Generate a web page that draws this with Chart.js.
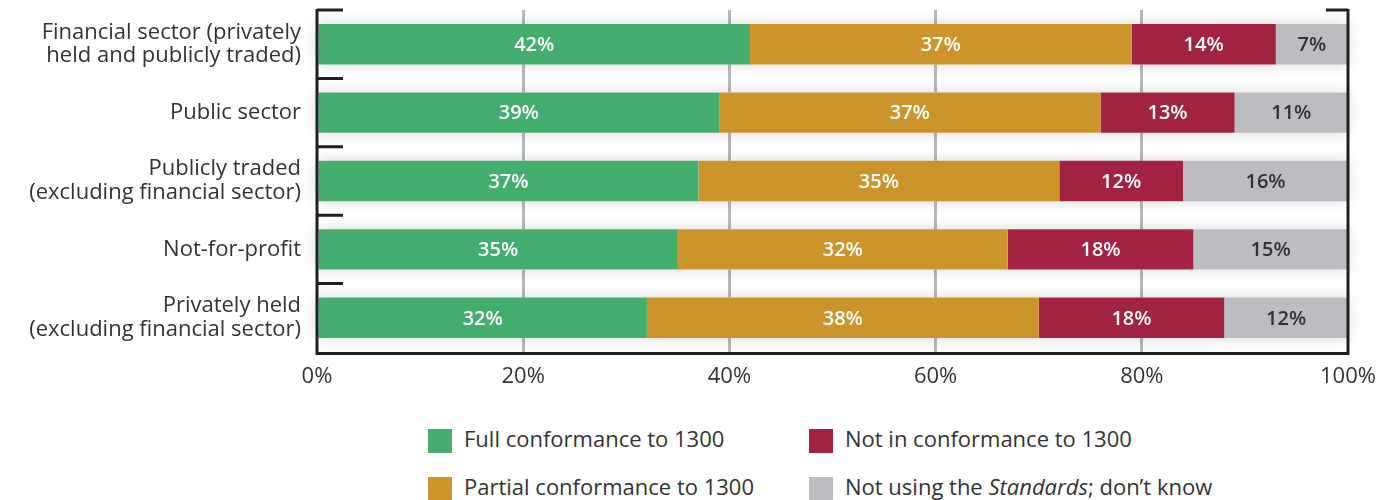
<!DOCTYPE html>
<html>
<head>
<meta charset="utf-8">
<script src="https://cdn.jsdelivr.net/npm/chart.js@4"></script>
<style>
  html, body { margin: 0; padding: 0; background: #fff; }
  body { width: 1377px; height: 500px; position: relative; overflow: hidden; font-family: "Open Sans", sans-serif; }
  #wrap { position: absolute; left: 0; top: 0; width: 1377px; height: 400px; }
  .legend { position: absolute; display: flex; align-items: center; font-size: 22px; color: #333; white-space: nowrap; }
  .legend .sw { width: 24px; height: 24px; margin-right: 12px; position: relative; top: 1px; }
  .legend .tx { position: relative; top: -2px; }
</style>
</head>
<body>
<div id="wrap"><canvas id="conformChart"></canvas></div>
<div id="legendBox"></div>
<script>
// categories and values (percent)
const categories = [
  ['Financial sector (privately', 'held and publicly traded)'],
  'Public sector',
  ['Publicly traded', '(excluding financial sector)'],
  'Not-for-profit',
  ['Privately held', '(excluding financial sector)']
];
const fullConf = [42, 39, 37, 35, 32];
const partialConf = [37, 37, 35, 32, 38];
const notConf = [14, 13, 12, 18, 18];
const notUsing = [7, 11, 16, 15, 12];
const xTicks = [0, 20, 40, 60, 80, 100];

const seriesNames = ['Full conformance to 1300', 'Partial conformance to 1300', 'Not in conformance to 1300', 'Not using the <em>Standards</em>; don\u2019t know'];
const seriesColors = ['#44ae6f', '#cb952c', '#a12341', '#bcbdc0'];
const labelColors = ['#ffffff', '#ffffff', '#ffffff', '#333333'];

const FONT = '"Open Sans", sans-serif';
const DARK = '#231f20';

// shadow behind each full bar
const barShadow = {
  id: 'barShadow',
  beforeDatasetsDraw(chart) {
    const ctx = chart.ctx;
    const meta = chart.getDatasetMeta(0);
    const xs = chart.scales.x;
    ctx.save();
    ctx.shadowColor = 'rgba(0,0,0,0.16)';
    ctx.shadowBlur = 14;
    ctx.fillStyle = '#ffffff';
    meta.data.forEach(bar => {
      const h = bar.height;
      ctx.fillRect(xs.getPixelForValue(0), bar.y - h / 2, xs.getPixelForValue(100) - xs.getPixelForValue(0), h);
    });
    ctx.restore();
  }
};

// value labels inside the segments
const segLabels = {
  id: 'segLabels',
  afterDatasetsDraw(chart) {
    const ctx = chart.ctx;
    ctx.save();
    ctx.font = '600 20px ' + FONT;
    ctx.textAlign = 'center';
    ctx.textBaseline = 'middle';
    chart.data.datasets.forEach((ds, di) => {
      const meta = chart.getDatasetMeta(di);
      ctx.fillStyle = labelColors[di];
      meta.data.forEach((bar, i) => {
        const cx = (bar.x + bar.base) / 2;
        ctx.fillText(ds.data[i] + '%', cx, bar.y + 1);
      });
    });
    ctx.restore();
  }
};

// dark frame with category ticks
const frame = {
  id: 'frame',
  afterDraw(chart) {
    const ctx = chart.ctx;
    const a = chart.chartArea;
    const ys = chart.scales.y;
    const step = (a.bottom - a.top) / categories.length;
    ctx.save();
    ctx.strokeStyle = DARK;
    ctx.lineWidth = 3;
    ctx.beginPath();
    ctx.moveTo(a.left, a.top - 1);
    ctx.lineTo(a.left, a.bottom + 1.5);
    ctx.lineTo(a.right, a.bottom + 1.5);
    ctx.lineTo(a.right, a.top - 1);
    ctx.stroke();
    ctx.beginPath();
    for (let i = 0; i < categories.length; i++) {
      const y = ys.getPixelForValue(i) - step / 2;
      ctx.moveTo(a.left, y);
      ctx.lineTo(a.left + 26, y);
    }
    ctx.moveTo(a.right, a.top);
    ctx.lineTo(a.right - 22, a.top);
    ctx.stroke();
    ctx.restore();
  }
};

const ctx = document.getElementById('conformChart').getContext('2d');
new Chart(ctx, {
  type: 'bar',
  data: {
    labels: categories,
    datasets: [fullConf, partialConf, notConf, notUsing].map((d, i) => ({
      label: seriesNames[i].replace(/<[^>]+>/g, ''),
      data: d,
      backgroundColor: seriesColors[i],
      borderWidth: 0,
      barPercentage: 0.59,
      categoryPercentage: 1
    }))
  },
  options: {
    indexAxis: 'y',
    responsive: true,
    maintainAspectRatio: false,
    animation: false,
    layout: { padding: { top: 10, right: 29, left: 0, bottom: 0 } },
    plugins: {
      legend: { display: false },
      tooltip: { enabled: false }
    },
    scales: {
      x: {
        stacked: true,
        min: 0,
        max: 100,
        afterBuildTicks(scale) { scale.ticks = xTicks.map(v => ({ value: v })); },
        afterFit(scale) {
          scale.height = 48;
          scale.paddingLeft = 0;
          scale.paddingRight = 0;
        },
        border: { display: false },
        grid: {
          drawTicks: false,
          lineWidth: 3,
          color: c => (c.index === 0 || c.index === xTicks.length - 1) ? 'rgba(0,0,0,0)' : '#b9b9b9'
        },
        ticks: {
          padding: 12,
          color: '#333',
          maxRotation: 0,
          font: { family: FONT, size: 22 },
          callback: v => v + '%'
        }
      },
      y: {
        stacked: true,
        afterFit(scale) {
          scale.width = 317;
          scale.paddingTop = 0;
          scale.paddingBottom = 0;
        },
        border: { display: false },
        grid: { display: false, drawTicks: false },
        ticks: {
          padding: 16,
          color: '#333',
          font: { family: FONT, size: 22, lineHeight: 1.08 }
        }
      }
    }
  },
  plugins: [barShadow, segLabels, frame]
});

// HTML legend in a 2x2 grid
const legendPos = [[428, 425], [428, 473], [809, 425], [809, 473]];
const box = document.getElementById('legendBox');
seriesNames.forEach((name, i) => {
  const el = document.createElement('div');
  el.className = 'legend';
  el.style.left = legendPos[i][0] + 'px';
  el.style.top = legendPos[i][1] + 'px';
  el.innerHTML = '<span class="sw" style="background:' + seriesColors[i] + '"></span><span class="tx">' + name + '</span>';
  box.appendChild(el);
});
</script>
</body>
</html>
